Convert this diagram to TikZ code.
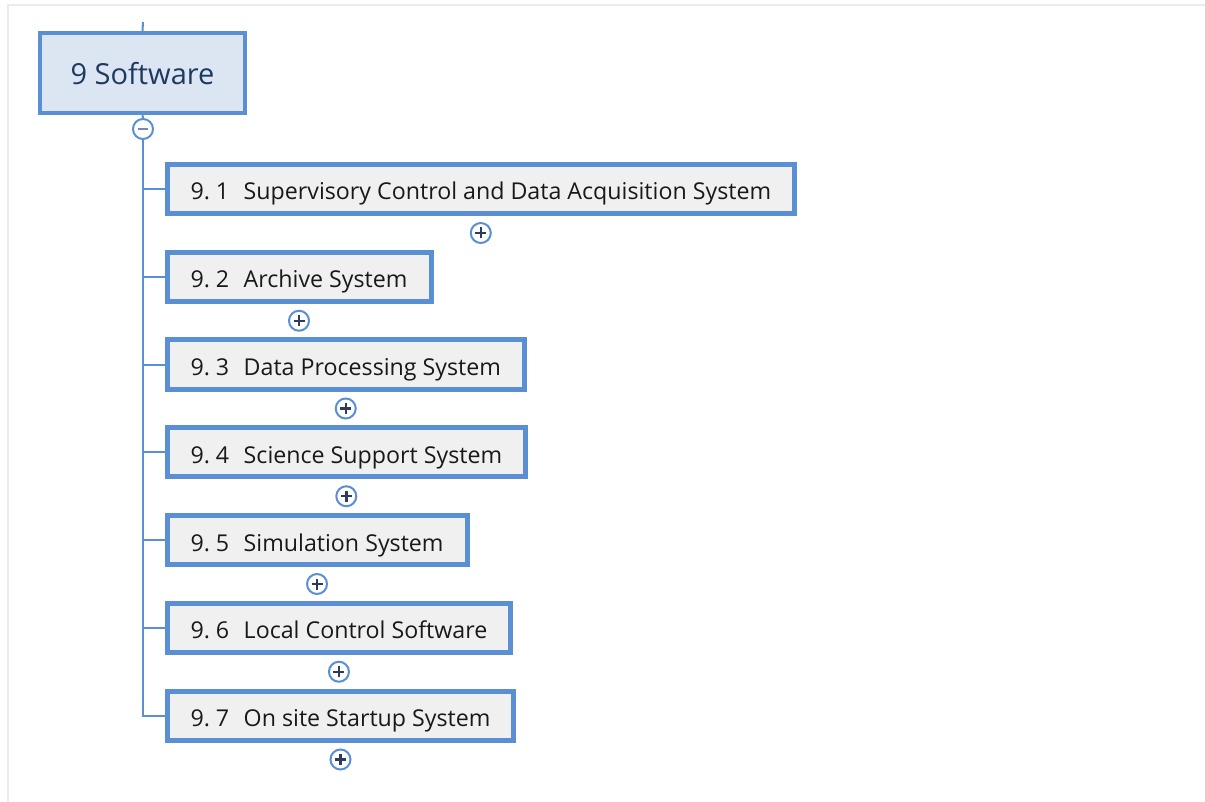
\documentclass[tikz,border=0pt]{standalone}
\usepackage{fontspec}
\setmainfont{Open Sans}
\usetikzlibrary{positioning}
\definecolor{boxblue}{RGB}{91,143,212}
\definecolor{rootfill}{RGB}{220,230,242}
\definecolor{childfill}{RGB}{240,240,240}
\definecolor{roottext}{RGB}{31,58,96}
\definecolor{plusdark}{RGB}{47,59,91}
\definecolor{minusgray}{RGB}{122,134,176}
\definecolor{framegray}{RGB}{235,235,235}
\tikzset{
  rootbox/.style={draw=boxblue, line width=4pt, fill=rootfill, text=roottext,
    font=\fontsize{29}{33}\selectfont, minimum width=205pt, minimum height=80pt, inner sep=0pt,
    text height=24pt, text depth=0pt},
  childbox/.style={draw=boxblue, line width=5pt, fill=childfill, text=black!90,
    font=\fontsize{23.2}{27}\selectfont, minimum height=49pt, inner xsep=23.5pt, inner ysep=0pt,
    text height=22pt, text depth=0pt, anchor=west},
  trunk/.style={draw=boxblue, line width=2pt},
  btn/.style={circle, draw=boxblue, line width=2pt, fill=white, minimum size=20pt, inner sep=0pt},
  plusbtn/.style={btn, path picture={
      \draw[plusdark, line width=2.4pt] ([xshift=-5.5pt]path picture bounding box.center) -- ([xshift=5.5pt]path picture bounding box.center);
      \draw[plusdark, line width=2.4pt] ([yshift=-5.5pt]path picture bounding box.center) -- ([yshift=5.5pt]path picture bounding box.center);}},
  minusbtn/.style={btn, path picture={
      \draw[minusgray, line width=2.2pt] ([xshift=-5pt]path picture bounding box.center) -- ([xshift=5pt]path picture bounding box.center);}},
}

\begin{document}
\begin{tikzpicture}[x=1pt, y=-1pt]
        \useasboundingbox (0,0) rectangle (1205,802);
        % frame
        \draw[framegray, line width=2pt] (1205,5) -- (8,5) -- (8,802);
        % root
        \node[rootbox] (sw) at (142.5,73) {9 Software};
        \coordinate (up) at (143,22);
        \draw[trunk] (up) -- (sw.north);
        \node[minusbtn] (mn) at (143,129) {};
        \draw[trunk] (sw.south) -- (mn.north);
        % children
        \foreach \i/\t in {1/Supervisory Control and Data Acquisition System, 2/Archive System,
                           3/Data Processing System, 4/Science Support System, 5/Simulation System,
                           6/Local Control Software, 7/On site Startup System}{
            \node[childbox] (s\i) at (164.5,{189+87.75*(\i-1)}) {9.\ \i\hspace{14.5pt}\t\hspace{3pt}};
            \node[plusbtn, below=6pt of s\i.south] (p\i) {};
        }
        \draw[trunk] (mn.south) |- (s7.west);
        \foreach \i in {1,...,6}
            \draw[trunk] (mn.south |- s\i.west) -- (s\i.west);
    \end{tikzpicture}
\end{document}
